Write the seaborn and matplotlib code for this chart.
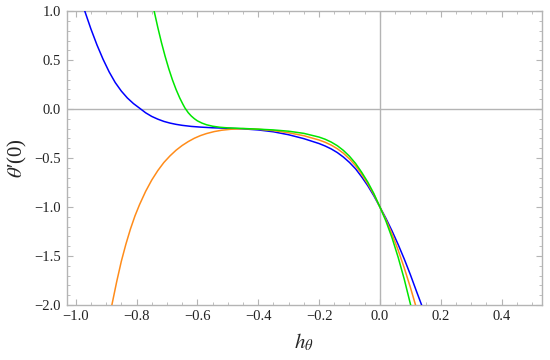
import numpy as np
import pandas as pd
import matplotlib
matplotlib.use("Agg")
import matplotlib.pyplot as plt
import seaborn as sns
from matplotlib.ticker import MultipleLocator

# values
blue_h = [-0.970, -0.950, -0.930, -0.910, -0.890, -0.870, -0.850, -0.830, -0.810, -0.786,
          -0.770, -0.750, -0.730, -0.710, -0.690, -0.670, -0.650, -0.620, -0.590, -0.550,
          -0.500, -0.450, -0.400, -0.350, -0.300, -0.250, -0.200, -0.180, -0.160, -0.140,
          -0.120, -0.100, -0.080, -0.060, -0.040, -0.020, 0.000, 0.020, 0.040, 0.060,
          0.080, 0.100, 0.120, 0.137]
blue_t = [1.000, 0.819, 0.655, 0.509, 0.380, 0.271, 0.184, 0.113, 0.056, 0.000,
          -0.038, -0.075, -0.103, -0.126, -0.143, -0.156, -0.166, -0.177, -0.184, -0.191,
          -0.196, -0.202, -0.213, -0.232, -0.262, -0.302, -0.352, -0.377, -0.407, -0.444,
          -0.490, -0.545, -0.610, -0.692, -0.782, -0.885, -1.000, -1.117, -1.245, -1.383,
          -1.531, -1.690, -1.859, -2.000]

orange_h = [-0.881, -0.865, -0.850, -0.835, -0.820, -0.805, -0.790, -0.770, -0.750, -0.730,
            -0.710, -0.690, -0.670, -0.650, -0.630, -0.610, -0.590, -0.570, -0.545, -0.520,
            -0.490, -0.450, -0.400, -0.350, -0.300, -0.250, -0.200, -0.180, -0.160, -0.140,
            -0.120, -0.100, -0.080, -0.060, -0.040, -0.020, 0.000, 0.020, 0.040, 0.060,
            0.080, 0.100, 0.117]
orange_t = [-2.000, -1.760, -1.555, -1.380, -1.225, -1.090, -0.975, -0.840, -0.725, -0.628,
            -0.545, -0.478, -0.420, -0.372, -0.332, -0.298, -0.271, -0.250, -0.230, -0.216,
            -0.206, -0.200, -0.206, -0.220, -0.242, -0.272, -0.316, -0.339, -0.368, -0.405,
            -0.451, -0.509, -0.578, -0.665, -0.762, -0.872, -1.000, -1.130, -1.277, -1.441,
            -1.622, -1.819, -2.000]

green_h = [-0.742, -0.730, -0.718, -0.706, -0.694, -0.682, -0.670, -0.658, -0.648, -0.641,
           -0.630, -0.620, -0.610, -0.600, -0.585, -0.570, -0.550, -0.525, -0.500, -0.475,
           -0.450, -0.400, -0.350, -0.300, -0.250, -0.200, -0.180, -0.160, -0.140, -0.120,
           -0.100, -0.080, -0.060, -0.040, -0.020, 0.000, 0.020, 0.040, 0.060, 0.080,
           0.101]
green_t = [1.000, 0.833, 0.679, 0.539, 0.412, 0.299, 0.200, 0.114, 0.052, 0.012,
           -0.037, -0.071, -0.098, -0.120, -0.143, -0.160, -0.175, -0.186, -0.192, -0.195,
           -0.198, -0.205, -0.213, -0.226, -0.248, -0.286, -0.308, -0.337, -0.374, -0.422,
           -0.482, -0.555, -0.645, -0.745, -0.862, -1.000, -1.145, -1.316, -1.514, -1.737,
           -2.000]

df = pd.concat([
    pd.DataFrame({"h": blue_h, "t": blue_t, "curve": "blue"}),
    pd.DataFrame({"h": orange_h, "t": orange_t, "curve": "orange"}),
    pd.DataFrame({"h": green_h, "t": green_t, "curve": "green"}),
])
colors = {"blue": "#0000ff", "orange": "#ff8c1a", "green": "#00e600"}

sns.set_style("ticks")
plt.rcParams["font.family"] = ["Liberation Serif", "DejaVu Serif"]
plt.rcParams["mathtext.fontset"] = "stix"

fig, ax = plt.subplots(figsize=(5.5, 3.6), dpi=100)
fig.subplots_adjust(left=0.121, right=0.985, top=0.969, bottom=0.153)

# axes through the origin
ax.axhline(0, color="#b4b4b4", lw=1.0, zorder=1)
ax.axvline(0, color="#b4b4b4", lw=1.0, zorder=1)

sns.lineplot(data=df, x="h", y="t", hue="curve", palette=colors, lw=1.1,
             legend=False, ax=ax, zorder=3)

ax.set_xlim(-1.03, 0.532)
ax.set_ylim(-2.0, 1.0)
ax.xaxis.set_major_locator(MultipleLocator(0.2))
ax.xaxis.set_minor_locator(MultipleLocator(0.05))
ax.yaxis.set_major_locator(MultipleLocator(0.5))
ax.yaxis.set_minor_locator(MultipleLocator(0.1))
fmt = plt.FuncFormatter(lambda v, p: f"{v:.1f}".replace("-", "\u2212"))
ax.xaxis.set_major_formatter(fmt)
ax.yaxis.set_major_formatter(fmt)

for s in ax.spines.values():
    s.set_color("#b4b4b4")
    s.set_linewidth(1.0)
ax.tick_params(which="both", direction="in", top=True, right=True, color="#b4b4b4",
               labelsize=10.5, labelcolor="#222222", pad=4)
ax.tick_params(which="major", length=4.5, width=0.8)
ax.tick_params(which="minor", length=2.5, width=0.6)

ax.set_xlabel(r"$h_\theta$", fontsize=15, labelpad=6)
ax.set_ylabel(r"$\theta$" + "\u2032(0)", fontsize=15, labelpad=4)

fig.savefig("out.png", dpi=100)
